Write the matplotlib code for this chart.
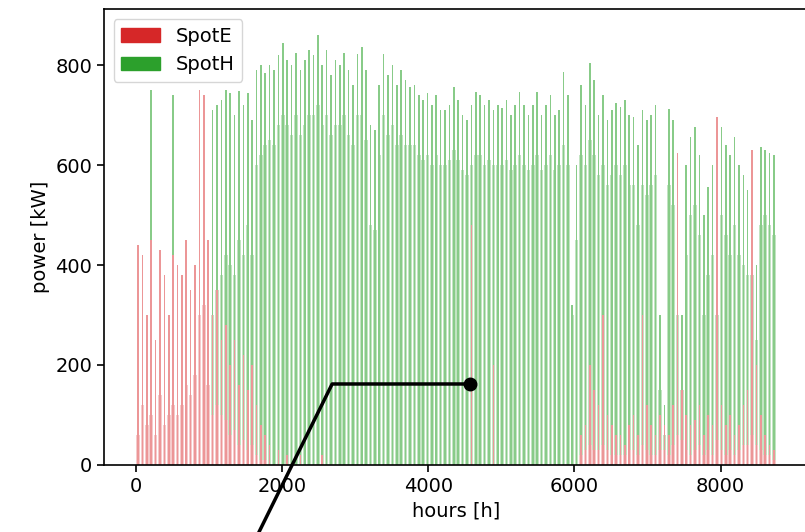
import numpy as np
import matplotlib
matplotlib.use('Agg')
from matplotlib import pyplot as plt
from matplotlib.patches import Patch

# 60-hour slots over the year
hours = np.arange(30, 8760, 60)

# SpotH: peak hour in slot / typical level in slot [kW]
spot_h_peak = [0, 0, 0, 750, 120, 0, 80, 0, 740, 60,
               0, 40, 0, 60, 0, 0, 100, 710, 720, 730,
               750, 745, 700, 748, 720, 745, 690, 790, 800, 785,
               800, 790, 820, 844, 810, 800, 824, 790, 810, 830,
               820, 860, 800, 830, 780, 810, 800, 824, 790, 760,
               823, 836, 790, 680, 670, 760, 823, 780, 800, 760,
               790, 770, 756, 760, 740, 730, 744, 720, 740, 710,
               710, 720, 756, 730, 700, 690, 720, 746, 740, 720,
               730, 710, 720, 715, 730, 700, 720, 746, 720, 700,
               720, 746, 700, 720, 740, 700, 710, 786, 740, 320,
               600, 760, 720, 804, 770, 700, 740, 690, 710, 724,
               716, 730, 700, 696, 640, 710, 690, 700, 720, 300,
               120, 713, 690, 560, 300, 600, 656, 676, 620, 500,
               556, 600, 500, 676, 640, 620, 656, 600, 580, 550,
               560, 400, 636, 630, 624, 620]
spot_h_typ = [0, 0, 30, 60, 40, 0, 30, 0, 60, 30,
              10, 20, 10, 30, 0, 0, 60, 300, 350, 380,
              420, 400, 380, 450, 420, 480, 420, 600, 620, 640,
              650, 640, 680, 700, 680, 660, 700, 660, 680, 700,
              700, 720, 680, 700, 660, 680, 680, 700, 660, 640,
              700, 700, 650, 480, 470, 620, 700, 660, 680, 640,
              660, 640, 640, 640, 620, 610, 620, 600, 620, 600,
              600, 610, 630, 610, 590, 580, 600, 620, 620, 600,
              610, 600, 600, 600, 610, 590, 600, 620, 600, 590,
              600, 620, 590, 600, 620, 590, 600, 640, 600, 300,
              450, 620, 600, 650, 620, 580, 600, 560, 580, 600,
              580, 600, 560, 560, 480, 560, 540, 560, 580, 150,
              60, 560, 520, 300, 150, 420, 500, 520, 460, 300,
              380, 420, 300, 500, 460, 420, 480, 420, 400, 380,
              380, 250, 480, 500, 480, 460]

# SpotE: peak hour in slot / typical level in slot [kW]
spot_e_peak = [440, 420, 300, 450, 250, 430, 380, 300, 420, 400,
               380, 450, 350, 400, 750, 740, 450, 300, 350, 250,
               280, 200, 250, 160, 220, 150, 200, 120, 80, 60,
               40, 0, 30, 0, 20, 0, 0, 20, 0, 0,
               0, 0, 20, 0, 0, 0, 0, 0, 0, 0,
               0, 0, 0, 0, 0, 0, 0, 0, 0, 0,
               0, 0, 0, 0, 0, 0, 0, 0, 0, 0,
               0, 0, 0, 0, 0, 0, 480, 0, 0, 0,
               0, 200, 0, 0, 0, 0, 0, 0, 0, 0,
               0, 0, 0, 0, 0, 0, 0, 0, 0, 0,
               0, 60, 80, 200, 150, 120, 300, 100, 80, 60,
               60, 40, 80, 100, 60, 300, 120, 80, 60, 100,
               80, 60, 120, 624, 150, 100, 80, 90, 120, 60,
               100, 80, 696, 120, 80, 100, 60, 80, 120, 150,
               630, 200, 100, 60, 40, 30]
spot_e_typ = [60, 120, 80, 100, 60, 140, 80, 100, 120, 100,
              120, 160, 140, 180, 300, 320, 160, 100, 120, 100,
              90, 60, 70, 40, 50, 30, 40, 20, 10, 10,
              0, 0, 0, 0, 0, 0, 0, 0, 0, 0,
              0, 0, 0, 0, 0, 0, 0, 0, 0, 0,
              0, 0, 0, 0, 0, 0, 0, 0, 0, 0,
              0, 0, 0, 0, 0, 0, 0, 0, 0, 0,
              0, 0, 0, 0, 0, 0, 0, 0, 0, 0,
              0, 0, 0, 0, 0, 0, 0, 0, 0, 0,
              0, 0, 0, 0, 0, 0, 0, 0, 0, 0,
              0, 20, 30, 40, 30, 30, 40, 30, 20, 20,
              20, 20, 30, 30, 20, 40, 30, 20, 20, 30,
              30, 20, 40, 60, 50, 30, 20, 30, 40, 20,
              30, 20, 50, 30, 20, 30, 20, 30, 40, 40,
              60, 40, 30, 20, 20, 10]

plt.rcParams['font.size'] = 14
plt.rcParams['axes.linewidth'] = 1.2
plt.rcParams['xtick.major.width'] = 1.2
plt.rcParams['ytick.major.width'] = 1.2
plt.rcParams['xtick.major.size'] = 5
plt.rcParams['ytick.major.size'] = 5

fig = plt.figure(figsize=(8.05, 5.32), dpi=100)
ax = fig.add_axes([0.129, 0.126, 0.875, 0.857])

ax.bar(hours, spot_h_typ, width=48, color='#c2e4c2', linewidth=0)
ax.bar(hours, spot_e_typ, width=48, color='#f5cbcc', linewidth=0)
ax.bar(hours, spot_h_peak, width=22, color='#88cb88', linewidth=0)
ax.bar(hours, spot_e_peak, width=22, color='#ec9697', linewidth=0)

# annotation pointer
ax.plot([4575, 2685, 1631], [162, 162, -150], color='black', lw=2.5, clip_on=False)
ax.plot([4575], [162], 'o', color='black', ms=9)

ax.set_xlim(-438, 9198)
ax.set_ylim(0, 912)
ax.set_xticks([0, 2000, 4000, 6000, 8000])
ax.set_yticks([0, 200, 400, 600, 800])
ax.set_xlabel('hours [h]')
ax.set_ylabel('power [kW]')

ax.legend([Patch(color='tab:red'), Patch(color='tab:green')], ['SpotE', 'SpotH'],
          loc='upper left')

fig.savefig('out.png', dpi=100)
